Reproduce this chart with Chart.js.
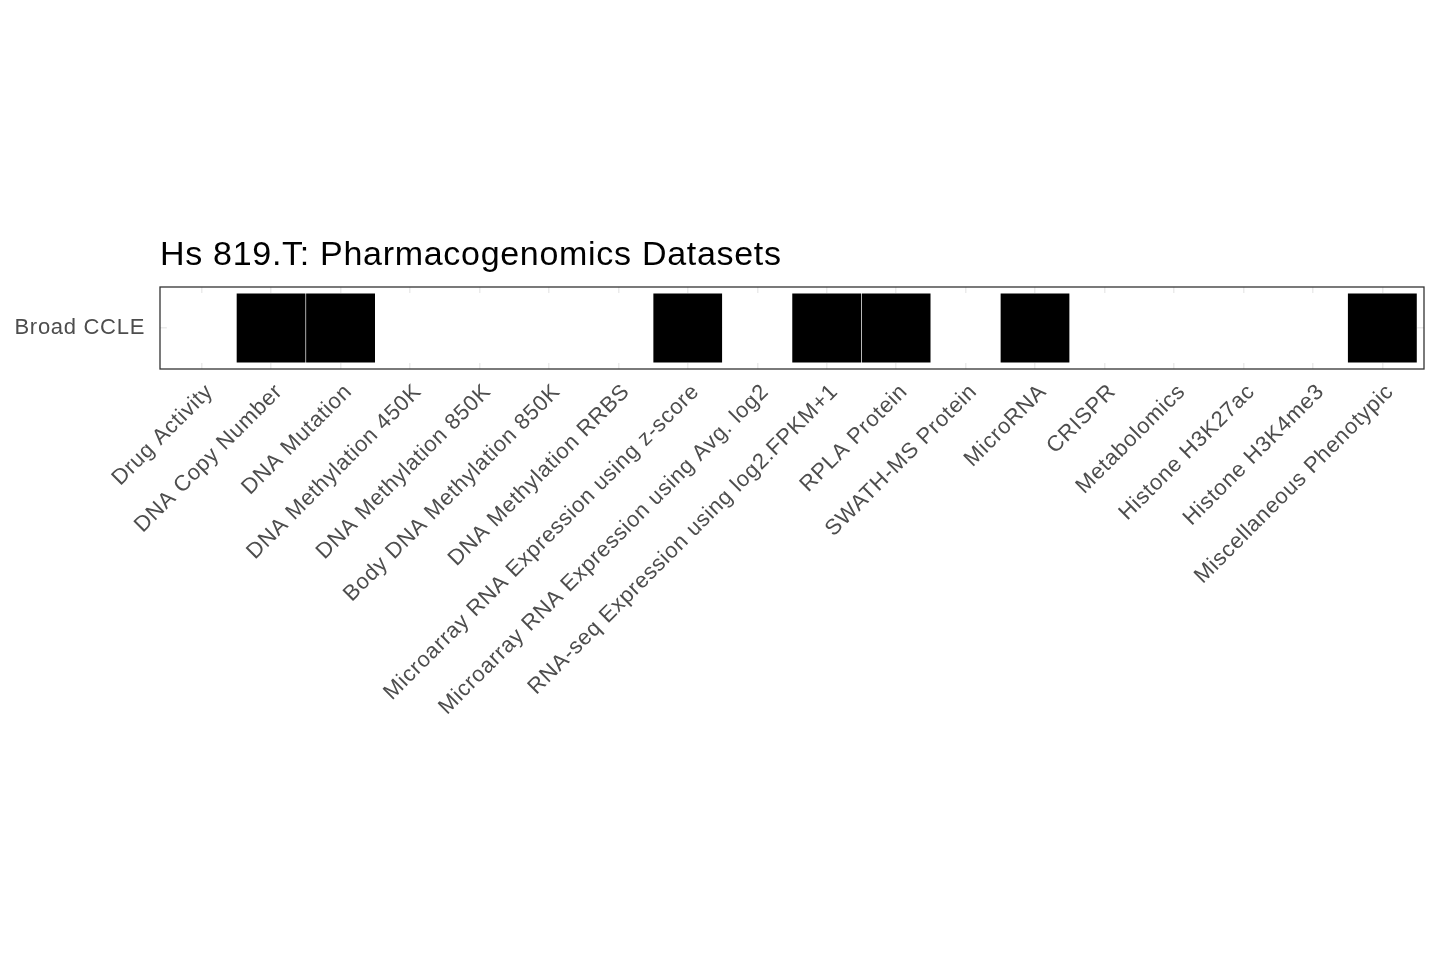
<!DOCTYPE html>
<html>
<head>
<meta charset="utf-8">
<script src="https://cdn.jsdelivr.net/npm/chart.js@4.4.1/dist/chart.umd.min.js"></script>
<style>
  html, body { margin: 0; padding: 0; background: #ffffff; }
  #wrap { width: 1440px; height: 960px; }
</style>
</head>
<body>
<div id="wrap"><canvas id="c" width="1440" height="960"></canvas></div>
<script>
const chartTitle = 'Hs 819.T: Pharmacogenomics Datasets';
const categories = [
  'Drug Activity',
  'DNA Copy Number',
  'DNA Mutation',
  'DNA Methylation 450K',
  'DNA Methylation 850K',
  'Body DNA Methylation 850K',
  'DNA Methylation RRBS',
  'Microarray RNA Expression using z-score',
  'Microarray RNA Expression using Avg. log2',
  'RNA-seq Expression using log2.FPKM+1',
  'RPLA Protein',
  'SWATH-MS Protein',
  'MicroRNA',
  'CRISPR',
  'Metabolomics',
  'Histone H3K27ac',
  'Histone H3K4me3',
  'Miscellaneous Phenotypic'
];
const rowLabels = ['Broad CCLE'];
const available = [0, 1, 1, 0, 0, 0, 0, 1, 0, 1, 1, 0, 1, 0, 0, 0, 0, 1];

const tiles = categories.map((c, i) => ({ x: i, y: [-0.5, 0.5] }));
const tileColors = available.map(v => v ? '#000000' : '#ffffff');

const spacingPlugin = {
  id: 'spacing',
  beforeDraw(chart) {
    chart.ctx.letterSpacing = '0.7px';
  }
};

const panelPlugin = {
  id: 'panel',
  afterDraw(chart) {
    const { ctx, chartArea: a } = chart;
    ctx.save();
    ctx.strokeStyle = '#333333';
    ctx.lineWidth = 1.3;
    ctx.strokeRect(a.left, a.top, a.right - a.left, a.bottom - a.top);
    ctx.fillStyle = '#000000';
    ctx.font = '34px "Liberation Sans", Arial, sans-serif';
    ctx.letterSpacing = '0.7px';
    ctx.textAlign = 'left';
    ctx.textBaseline = 'alphabetic';
    ctx.fillText(chartTitle, 160, 265);
    ctx.restore();
  }
};

Chart.defaults.font.family = '"Liberation Sans", Arial, sans-serif';

new Chart(document.getElementById('c'), {
  type: 'bar',
  data: {
    datasets: [{
      data: tiles,
      backgroundColor: tileColors,
      borderColor: '#ffffff',
      borderWidth: 0.6,
      borderSkipped: false,
      barPercentage: 1,
      categoryPercentage: 1
    }]
  },
  options: {
    responsive: false,
    animation: false,
    devicePixelRatio: 1,
    layout: { padding: { top: 287, right: 16, left: 0, bottom: 0 } },
    plugins: { legend: { display: false }, tooltip: { enabled: false }, title: { display: false } },
    scales: {
      x: {
        type: 'linear',
        min: -0.6,
        max: 17.6,
        offset: false,
        afterBuildTicks(scale) { scale.ticks = categories.map((_, i) => ({ value: i })); },
        afterFit(scale) { scale.height = 591; },
        grid: { color: '#ebebeb', lineWidth: 1.5, drawTicks: false, offset: false },
        border: { display: false },
        ticks: {
          autoSkip: false,
          minRotation: 45,
          maxRotation: 45,
          padding: 10,
          labelOffset: 8,
          color: '#4d4d4d',
          font: { size: 22 },
          callback: (v) => categories[v]
        }
      },
      y: {
        type: 'linear',
        min: -0.59,
        max: 0.59,
        afterBuildTicks(scale) { scale.ticks = rowLabels.map((_, i) => ({ value: i })); },
        afterFit(scale) { scale.width = 160; },
        grid: { color: '#ebebeb', lineWidth: 1.5, drawTicks: false },
        border: { display: false },
        ticks: {
          padding: 15,
          color: '#4d4d4d',
          font: { size: 22 },
          callback: (v) => rowLabels[v]
        }
      }
    }
  },
  plugins: [spacingPlugin, panelPlugin]
});
</script>
</body>
</html>
